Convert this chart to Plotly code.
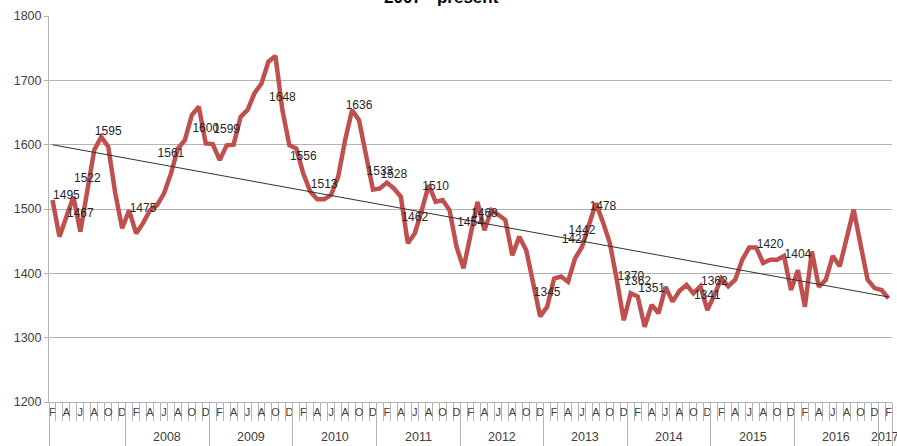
import numpy as np
import pandas as pd
import plotly.graph_objects as go

# monthly values, Feb 2007 .. Feb 2017
values = [
    1514, 1457, 1488, 1519, 1465, 1530, 1592, 1612, 1597, 1525, 1470,          # 2007 (Feb-Dec)
    1498, 1462, 1478, 1498, 1506, 1524, 1555, 1594, 1607, 1646, 1659, 1602,    # 2008
    1601, 1576, 1599, 1600, 1643, 1654, 1680, 1695, 1729, 1738, 1654, 1599,    # 2009
    1594, 1555, 1527, 1515, 1515, 1522, 1550, 1607, 1654, 1638, 1584, 1530,    # 2010
    1532, 1541, 1532, 1519, 1447, 1462, 1498, 1537, 1511, 1514, 1498, 1441,    # 2011
    1408, 1460, 1511, 1467, 1498, 1491, 1483, 1428, 1457, 1436, 1384, 1333,    # 2012
    1348, 1392, 1395, 1387, 1423, 1441, 1475, 1509, 1480, 1447, 1390, 1327,    # 2013
    1369, 1364, 1317, 1351, 1338, 1379, 1356, 1373, 1382, 1369, 1380, 1343,    # 2014
    1366, 1392, 1380, 1390, 1421, 1440, 1440, 1416, 1421, 1421, 1427, 1374,    # 2015
    1405, 1348, 1434, 1379, 1390, 1427, 1411, 1457, 1499, 1444, 1390, 1377,    # 2016
    1374, 1361,                                                                # 2017 (Jan-Feb)
]

# labelled points (month index from Feb 2007, value shown)
label_idx = [2, 4, 5, 8, 13, 17, 22, 25, 33, 36, 39, 44, 47, 49, 52, 55, 60, 62,
             71, 75, 76, 79, 83, 84, 86, 94, 95, 103, 107]
label_vals = [1495, 1467, 1522, 1595, 1475, 1561, 1600, 1599, 1648, 1556, 1513, 1636,
              1533, 1528, 1462, 1510, 1454, 1468, 1345, 1427, 1442, 1478, 1370, 1362,
              1351, 1341, 1362, 1420, 1404]

dates = pd.date_range("2007-02-01", periods=len(values), freq="MS")
month_letters = "JFMAMJJASOND"
idx = np.arange(len(values))

# axis decoration derived from the dates
tick_idx = idx[::2]
tick_text = [month_letters[d.month - 1] for d in dates[::2]]
month_bounds = list(idx - 0.5) + [idx[-1] + 0.5]
year_starts = [i for i, d in enumerate(dates) if d.month == 1]
year_bounds = [-0.5] + [i - 0.5 for i in year_starts] + [idx[-1] + 0.5]

# linear trend
slope, icpt = np.polyfit(idx, values, 1)
trend_x = [idx[0], idx[-1]]
trend_y = [icpt + slope * x for x in trend_x]

FONT = "Liberation Sans, Arial, sans-serif"
RED = "#C0504D"
GRID = "#B4B4B4"
TXT = "#262626"

fig = go.Figure()

fig.add_trace(go.Scatter(
    x=idx, y=values,
    mode="lines",
    line=dict(color=RED, width=4.5),
    showlegend=False
))

fig.add_trace(go.Scatter(
    x=trend_x, y=trend_y,
    mode="lines",
    line=dict(color="#333333", width=1),
    xaxis="x2",
    showlegend=False
))

fig.add_trace(go.Scatter(
    x=label_idx, y=label_vals,
    mode="markers+text",
    marker=dict(size=14, color="rgba(0,0,0,0)"),
    text=[str(v) for v in label_vals],
    textposition="top center",
    textfont=dict(family=FONT, size=12, color=TXT),
    xaxis="x2",
    showlegend=False
))

xrange = [-0.5, idx[-1] + 0.5]

fig.update_layout(
    width=897,
    height=446,
    margin=dict(l=49, r=5, t=16, b=44, autoexpand=False),
    plot_bgcolor="white",
    paper_bgcolor="white",
    font=dict(family=FONT, color=TXT),
    xaxis=dict(
        range=xrange,
        automargin=False,
        tickmode="array",
        tickvals=tick_idx,
        ticktext=tick_text,
        ticks="",
        tickfont=dict(size=11, color="#404040"),
        showgrid=False,
        zeroline=False,
        showline=True,
        linecolor=GRID,
        minor=dict(
            tickmode="array",
            tickvals=month_bounds,
            ticks="outside",
            ticklen=18,
            tickcolor=GRID,
            tickwidth=1,
            showgrid=False
        )
    ),
    xaxis2=dict(
        range=xrange,
        automargin=False,
        overlaying="x",
        anchor="y",
        side="bottom",
        tickmode="array",
        tickvals=year_bounds,
        ticks="outside",
        ticklen=44,
        tickcolor=GRID,
        showticklabels=False,
        showgrid=False,
        zeroline=False,
        showline=False
    ),
    yaxis=dict(
        range=[1200, 1800],
        automargin=False,
        dtick=100,
        showgrid=True,
        gridcolor=GRID,
        zeroline=False,
        showline=True,
        linecolor=GRID,
        ticks="outside",
        ticklen=4,
        tickcolor=GRID,
        tickfont=dict(size=12.5, color="#404040")
    )
)

# year group labels
for yr in sorted(set(d.year for d in dates)):
    pos = [i for i, d in enumerate(dates) if d.year == yr]
    if yr == dates[0].year:
        continue
    fig.add_annotation(
        x=(pos[0] + pos[-1]) / 2, y=0,
        xref="x", yref="paper",
        text=str(yr), showarrow=False,
        yanchor="middle", yshift=-35,
        font=dict(family=FONT, size=12.5, color="#404040")
    )

# title, mostly cut off at the top edge
fig.add_annotation(
    x=0.466, y=1, xref="paper", yref="paper",
    text="<b>2007 - present</b>", showarrow=False,
    yanchor="bottom", yshift=7,
    font=dict(family=FONT, size=17, color="#000000")
)

fig.write_html(
    "out.html",
    config={"displayModeBar": False},
    post_script="document.body.style.margin='0';"
)
